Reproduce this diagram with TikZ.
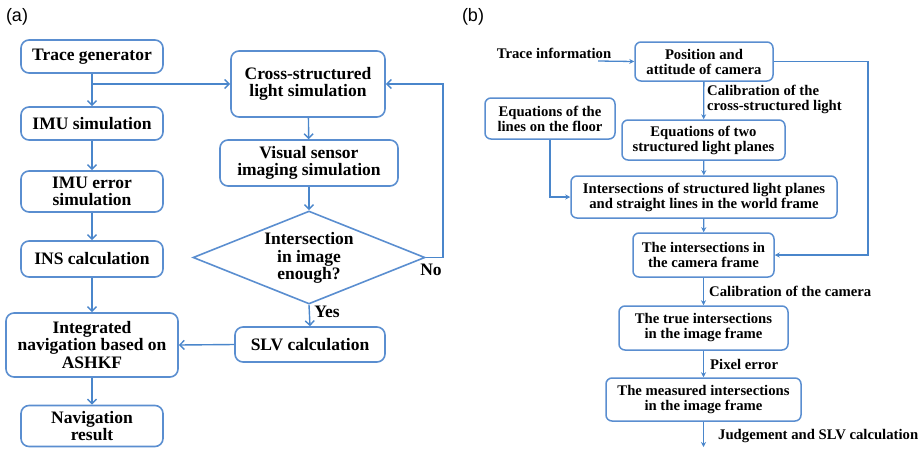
\documentclass[tikz,border=0pt]{standalone}
\usepackage{fontspec}
\setmainfont{Liberation Serif}
\newfontfamily\labelfont{Liberation Sans}
\usetikzlibrary{arrows.meta,shapes.geometric}
\definecolor{boxblue}{HTML}{5A8ED0}
\definecolor{arrblue}{HTML}{4A86CB}
\tikzset{
  boxa/.style={draw=boxblue, line width=1.6pt, rounded corners=8pt, align=center, inner sep=0pt,
    font=\fontsize{17.5}{17.5}\selectfont\bfseries},
  boxb/.style={draw=boxblue, line width=1.5pt, rounded corners=6pt, align=center, inner sep=0pt,
    font=\fontsize{14.7}{15}\selectfont\bfseries},
  arra/.style={draw=arrblue, line width=1.4pt, -{Straight Barb[length=4.5pt,width=9pt,line width=1.4pt]}},
  arrb/.style={draw=arrblue, line width=1.3pt, -{Stealth[length=5pt,width=5pt]}},
  lbla/.style={font=\fontsize{17.5}{17.5}\selectfont\bfseries, inner sep=0pt},
  lblb/.style={font=\fontsize{14.7}{15}\selectfont\bfseries, inner sep=0pt, align=left},
  panel/.style={font=\labelfont\fontsize{18}{20}\selectfont, inner sep=0pt}
}
\begin{document}
\begin{tikzpicture}[x=1pt,y=-1pt]
\useasboundingbox (0,0) rectangle (921,448);
% ---------- panel (a) ----------
\node[panel] (pa) at (17,17) {(a)};
\node[boxa, minimum width=142pt, minimum height=33pt] (tg) at (92,56.5) {Trace generator};
\node[boxa, minimum width=142pt, minimum height=33pt] (imu) at (92,123.5) {IMU simulation};
\node[boxa, minimum width=142pt, minimum height=41pt] (imuerr) at (92,191.5) {IMU error\\simulation};
\node[boxa, minimum width=142pt, minimum height=36pt] (ins) at (92,259) {INS calculation};
\node[boxa, minimum width=172pt, minimum height=64pt] (integ) at (92,345) {Integrated\\navigation based on\\ASHKF};
\node[boxa, minimum width=142pt, minimum height=41pt] (navres) at (92,426) {Navigation\\result};
\node[boxa, minimum width=154pt, minimum height=66pt] (cross) at (308,84) {Cross-structured\\light simulation};
\node[boxa, minimum width=178pt, minimum height=46pt] (visual) at (309,163) {Visual sensor\\imaging simulation};
\node[draw=boxblue, line width=1.6pt, shape=diamond, inner sep=0pt, minimum width=232pt, minimum height=93pt] (dia) at (309,257.5) {};
\node[lbla, align=center] (diatext) at (309,258) {Intersection\\in image\\enough?};
\node[boxa, minimum width=150pt, minimum height=35pt] (slv) at (310,344.5) {SLV calculation};
\coordinate (br) at (92,84);
\coordinate (fb1) at (443,257.5);
\coordinate (fb2) at (443,84);
\draw[arra] (tg) -- (imu);
\draw[arra] (br) -- (cross.west);
\draw[arra] (imu) -- (imuerr);
\draw[arra] (imuerr) -- (ins);
\draw[arra] (ins) -- (integ);
\draw[arra] (integ) -- (navres);
\draw[arra] (cross) -- (visual);
\draw[arra] (visual) -- (dia.north);
\draw[arra] (dia.south) -- (slv.north);
\draw[arra] (dia.east) -- (fb1) -- (fb2) -- (cross.east);
\draw[arra] (slv.west) -- (integ.east);
\node[lbla] (yes) at (327,312) {Yes};
\node[lbla] (no) at (431,270) {No};
% ---------- panel (b) ----------
\node[panel] (pb) at (473,17) {(b)};
\node[lblb] (trinfo) at (554,53) {Trace information};
\coordinate (trs) at (598,61);
\node[boxb, minimum width=138pt, minimum height=39pt] (pos) at (704,61.5) {Position and\\attitude of camera};
\node[boxb, minimum width=130pt, minimum height=41pt] (floor) at (550,118.5) {Equations of the\\lines on the floor};
\node[boxb, minimum width=163pt, minimum height=40pt] (eq2) at (703.5,140) {Equations of two\\structured light planes};
\node[boxb, minimum width=266pt, minimum height=42pt] (inter) at (704,197) {Intersections of structured light planes\\and straight lines in the world frame};
\node[boxb, minimum width=141pt, minimum height=44pt] (cam) at (703.5,255) {The intersections in\\the camera frame};
\node[boxb, minimum width=169pt, minimum height=44pt] (true) at (703.5,328) {The true intersections\\in the image frame};
\node[boxb, minimum width=195pt, minimum height=43pt] (meas) at (703.5,399.5) {The measured intersections\\in the image frame};
\coordinate (fl) at (550,197);
\coordinate (rc1) at (868,61.5);
\coordinate (rc2) at (868,255);
\coordinate (endb) at (703.5,447);
\draw[arrb] (trs) -- (pos.west);
\draw[arrb] (pos) -- (eq2);
\draw[arrb] (floor.south) -- (fl) -- (inter.west);
\draw[arrb] (eq2) -- (inter);
\draw[arrb] (inter) -- (cam);
\draw[arrb] (pos.east) -- (rc1) -- (rc2) -- (cam.east);
\draw[arrb] (cam) -- (true);
\draw[arrb] (true) -- (meas);
\draw[arrb] (meas.south) -- (endb);
\node[lblb, anchor=west] (calcl) at (707,99.5) {Calibration of the\\cross-structured light};
\node[lblb, anchor=west] (calcam) at (709,291) {Calibration of the camera};
\node[lblb, anchor=west] (pix) at (710,364) {Pixel error};
\node[lblb, anchor=west] (judge) at (718,436) {Judgement and SLV calculation};
\end{tikzpicture}
\end{document}
